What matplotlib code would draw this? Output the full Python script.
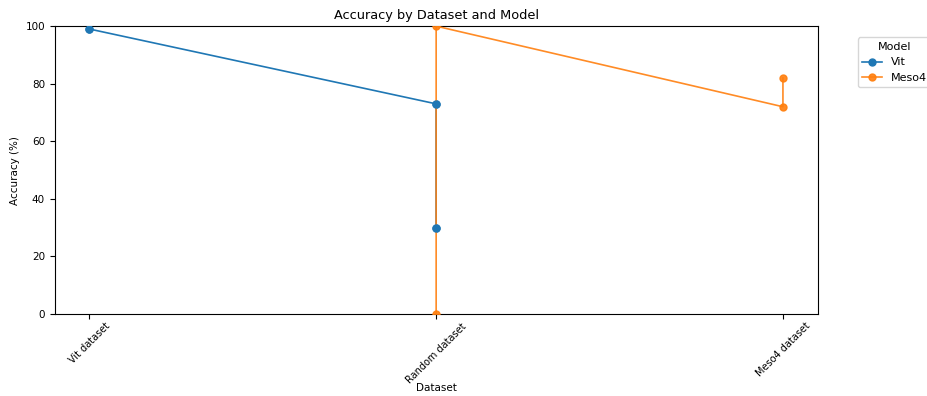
import matplotlib.pyplot as plt

# Данные
vit_datasets = ['Vit dataset', 'Random dataset', 'Random dataset']
vit_acc = [99, 73, 30]
meso_datasets = ['Random dataset', 'Random dataset', 'Meso4 dataset', 'Meso4 dataset']
meso_acc = [0, 100, 72, 82]

fig = plt.figure(figsize=(9.27, 3.96), dpi=100)
ax = fig.add_axes([0.059, 0.207, 0.823, 0.727])

# линия Vit под линией Meso4, точки Vit поверх
ax.plot(vit_datasets, vit_acc, marker='o', markersize=5, lw=1.2, label='Vit', zorder=2)
ax.plot(meso_datasets, meso_acc, marker='o', markersize=5, lw=1.2, label='Meso4', zorder=3, alpha=0.9)
ax.plot(vit_datasets, vit_acc, 'o', markersize=5, color='C0', zorder=4)

ax.set_ylim(0, 100)
ax.set_title('Accuracy by Dataset and Model', fontsize=9.3, pad=5)
ax.set_xlabel('Dataset', fontsize=7.5)
ax.xaxis.set_label_coords(0.5, -0.24)
ax.set_ylabel('Accuracy (%)', fontsize=7.5)
ax.tick_params(labelsize=7.5)
ax.tick_params(axis='x', labelsize=7, pad=1.5)
plt.setp(ax.get_xticklabels(), rotation=45)
ax.legend(title='Model', loc='upper left', bbox_to_anchor=(1.045, 0.98), fontsize=8, title_fontsize=8,
          handlelength=1.8)

fig.savefig('out.png', dpi=100)
